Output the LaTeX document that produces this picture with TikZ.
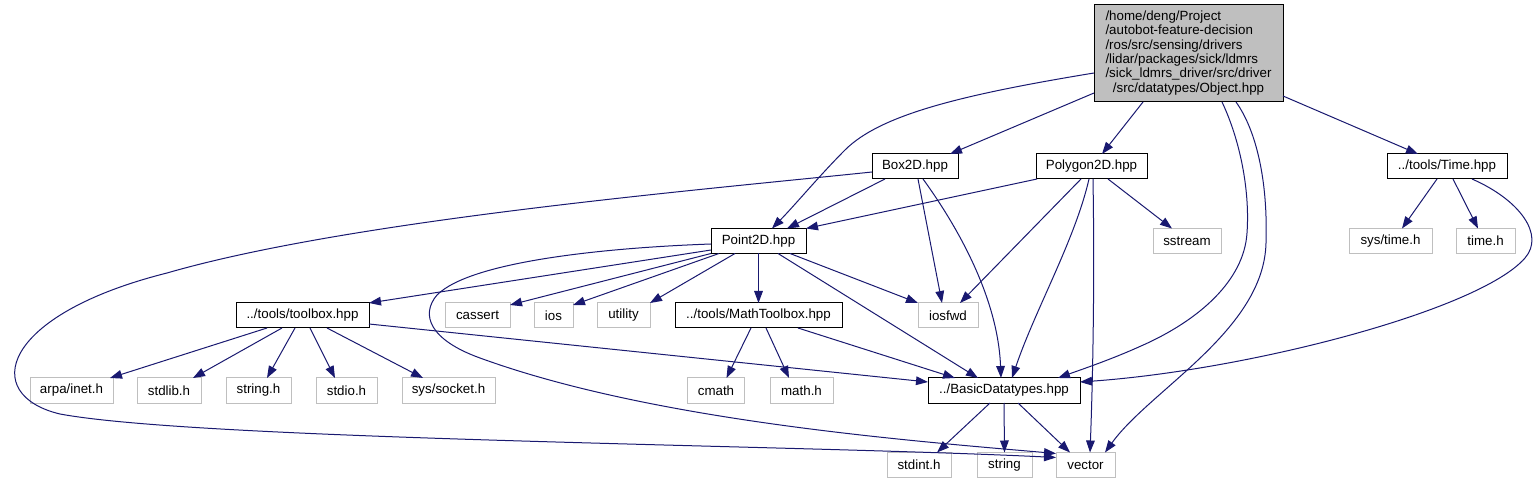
\documentclass[tikz,border=0pt]{standalone}
\usepackage{fontspec}
\setmainfont{Liberation Sans}
\usetikzlibrary{arrows.meta,calc}
\definecolor{edgec}{RGB}{25,25,112}
\definecolor{graybd}{RGB}{191,191,191}
\begin{document}
\begin{tikzpicture}[x=0.75pt,y=-0.75pt,
  every node/.style={font=\fontsize{10}{12}\selectfont, inner sep=0pt, outer sep=0pt},
  wd/.style={minimum width=#1*0.75pt},
  bbox/.style={draw=black, fill=white, line width=0.75pt, minimum height=25*0.75pt},
  gbox/.style={draw=graybd, fill=white, line width=0.75pt, minimum height=25*0.75pt},
  edge/.style={draw=edgec, line width=0.75pt, -{Triangle[length=9pt,width=6.5pt]}}]
\useasboundingbox (0,0) rectangle (1538,484);
\fill[white] (0,0) rectangle (1538,484);
% nodes
\node[bbox, fill=graybd, wd=189, minimum height=97*0.75pt] (obj) at (1188.5,53.5)
  {\raisebox{-1.5pt}{\fontsize{10}{10.8}\selectfont\begin{tabular}{@{}l@{}}/home/deng/Project\\/autobot-feature-decision\\/ros/src/sensing/drivers\\/lidar/packages/sick/ldmrs\\/sick\_ldmrs\_driver/src/driver\\\multicolumn{1}{@{}c@{}}{/src/datatypes/Object.hpp}\end{tabular}}};
\node[bbox, wd=86]  (box2d)  at (915,166.5)   {Box2D.hpp};
\node[bbox, wd=111] (poly)   at (1091.5,166.5) {Polygon2D.hpp};
\node[bbox, wd=120] (time)   at (1447,166.5)  {../tools/Time.hpp};
\node[gbox, wd=83]  (systime) at (1390.5,241) {sys/time.h};
\node[gbox, wd=59]  (timeh)  at (1485.5,241)  {time.h};
\node[gbox, wd=68]  (sstream) at (1187,241)   {sstream};
\node[bbox, wd=95]  (point)  at (758.5,241)   {Point2D.hpp};
\node[bbox, wd=133] (toolbox) at (302.5,315.5) {../tools/toolbox.hpp};
\node[gbox, wd=65]  (cassert) at (477.5,315.5) {cassert};
\node[gbox, wd=39]  (ios)    at (553.5,315.5) {ios};
\node[gbox, wd=53]  (utility) at (623.5,315.5) {utility};
\node[bbox, wd=167] (math)   at (758.5,315.5) {../tools/MathToolbox.hpp};
\node[gbox, wd=60]  (iosfwd) at (948,315.5)   {iosfwd};
\node[gbox, wd=83]  (arpa)   at (71.5,390.5)  {arpa/inet.h};
\node[gbox, wd=64]  (stdlib) at (169,390.5)   {stdlib.h};
\node[gbox, wd=65]  (stringh) at (258.5,390.5) {string.h};
\node[gbox, wd=61]  (stdio)  at (346.5,390.5) {stdio.h};
\node[gbox, wd=93]  (socket) at (448.5,390.5) {sys/socket.h};
\node[gbox, wd=57]  (cmath)  at (716,390.5)   {cmath};
\node[gbox, wd=63]  (mathh)  at (801.5,390.5) {math.h};
\node[bbox, wd=152] (basic)  at (1004,390.5)  {../BasicDatatypes.hpp};
\node[gbox, wd=64]  (stdint) at (919,465)     {stdint.h};
\node[gbox, wd=55]  (string) at (1004.5,465)  {string};
\node[gbox, wd=59]  (vector) at (1085.5,465)  {vector};
% edges from Object.hpp
\draw[edge] ($(obj.west)+(0,19.5)$) .. controls (960,95) and (880,115) .. (845,150) .. controls (820,175) and (795,205) .. ($(point.north west)+(61,0)$);
\draw[edge] ($(obj.south west)+(0,-9)$) -- ($(box2d.north east)+(-8,0)$);
\draw[edge] ($(obj.south west)+(49,0)$) -- ($(poly.north west)+(66,0)$);
\draw[edge] ($(obj.south west)+(128,0)$) .. controls (1240,140) and (1250,190) .. (1247,233) .. controls (1244,280) and (1200,320) .. (1141,346) .. controls (1110,360) and (1080,370) .. ($(basic.north east)+(-22,0)$);
\draw[edge] ($(obj.south west)+(142,0)$) .. controls (1256,130) and (1268,180) .. (1266,243) .. controls (1264,330) and (1150,390) .. ($(vector.north west)+(49,0)$);
\draw[edge] ($(obj.south east)+(0,-6)$) -- ($(time.north west)+(31,0)$);
% Box2D
\draw[edge] ($(box2d.south west)+(13,0)$) -- ($(point.north west)+(76,0)$);
\draw[edge] ($(box2d.south west)+(46,0)$) -- ($(iosfwd.north west)+(24,0)$);
\draw[edge] ($(box2d.south west)+(51,0)$) .. controls (960,230) and (998,300) .. ($(basic.north west)+(73,0)$);
\draw[edge] ($(box2d.west)+(0,5.5)$) .. controls (700,190) and (350,220) .. (167,273) .. controls (0,315) and (-20,395) .. (60,414) .. controls (200,440) and (800,445) .. ($(vector.north west)+(0,5)$);
% Polygon2D
\draw[edge] ($(poly.south west)+(1,0)$) -- (point.north east);
\draw[edge] ($(poly.south west)+(45,0)$) -- ($(iosfwd.north east)+(-18,0)$);
\draw[edge] ($(poly.south west)+(53,0)$) .. controls (1075,240) and (1035,310) .. ($(basic.north west)+(84,0)$);
\draw[edge] ($(poly.south west)+(57,0)$) .. controls (1095,300) and (1092,400) .. ($(vector.north west)+(34,0)$);
\draw[edge] ($(poly.south west)+(72,0)$) -- ($(sstream.north west)+(19,0)$);
% Time.hpp
\draw[edge] ($(time.south west)+(50,0)$) -- ($(systime.north west)+(53,0)$);
\draw[edge] ($(time.south west)+(66,0)$) -- ($(timeh.north west)+(22,0)$);
\draw[edge] ($(time.south west)+(85,0)$) .. controls (1520,200) and (1545,235) .. (1525,258) .. controls (1480,310) and (1250,370) .. ($(basic.east)+(0,-8.5)$);
% Point2D
\draw[edge] ($(point.west)+(0,9)$) -- (toolbox.north east);
\draw[edge] ($(point.west)+(0,3)$) .. controls (600,248) and (470,262) .. (437,295) .. controls (420,315) and (430,340) .. (480,358) .. controls (650,420) and (900,440) .. ($(vector.north west)+(0,1)$);
\draw[edge] (point.south west) -- ($(cassert.north east)+(0,2)$);
\draw[edge] ($(point.south west)+(8,0)$) -- ($(ios.north east)+(0,2)$);
\draw[edge] ($(point.south west)+(24,0)$) -- (utility.north east);
\draw[edge] (point.south) -- (math.north);
\draw[edge] ($(point.south west)+(79,0)$) -- (iosfwd.north west);
\draw[edge] ($(point.south west)+(67,0)$) -- ($(basic.north west)+(50,0)$);
% toolbox
\draw[edge] ($(toolbox.south west)+(31,0)$) -- ($(arpa.north east)+(-3,0)$);
\draw[edge] ($(toolbox.south west)+(46,0)$) -- ($(stdlib.north east)+(-8,0)$);
\draw[edge] ($(toolbox.south west)+(59,0)$) -- ($(stringh.north west)+(41,0)$);
\draw[edge] ($(toolbox.south west)+(74,0)$) -- ($(stdio.north west)+(19,0)$);
\draw[edge] ($(toolbox.south west)+(91,0)$) -- ($(socket.north west)+(21,0)$);
\draw[edge] ($(toolbox.east)+(0,8.5)$) -- ($(basic.west)+(0,-8.5)$);
% MathToolbox
\draw[edge] ($(math.south west)+(76,0)$) -- ($(cmath.north west)+(39,0)$);
\draw[edge] ($(math.south west)+(91,0)$) -- ($(mathh.north west)+(19,0)$);
\draw[edge] ($(math.south west)+(123,0)$) -- ($(basic.north west)+(27,0)$);
% BasicDatatypes
\draw[edge] ($(basic.south west)+(62,0)$) -- ($(stdint.north west)+(50,0)$);
\draw[edge] (basic.south) -- (string.north);
\draw[edge] ($(basic.south west)+(90,0)$) -- ($(vector.north west)+(14,0)$);
\end{tikzpicture}
\end{document}
